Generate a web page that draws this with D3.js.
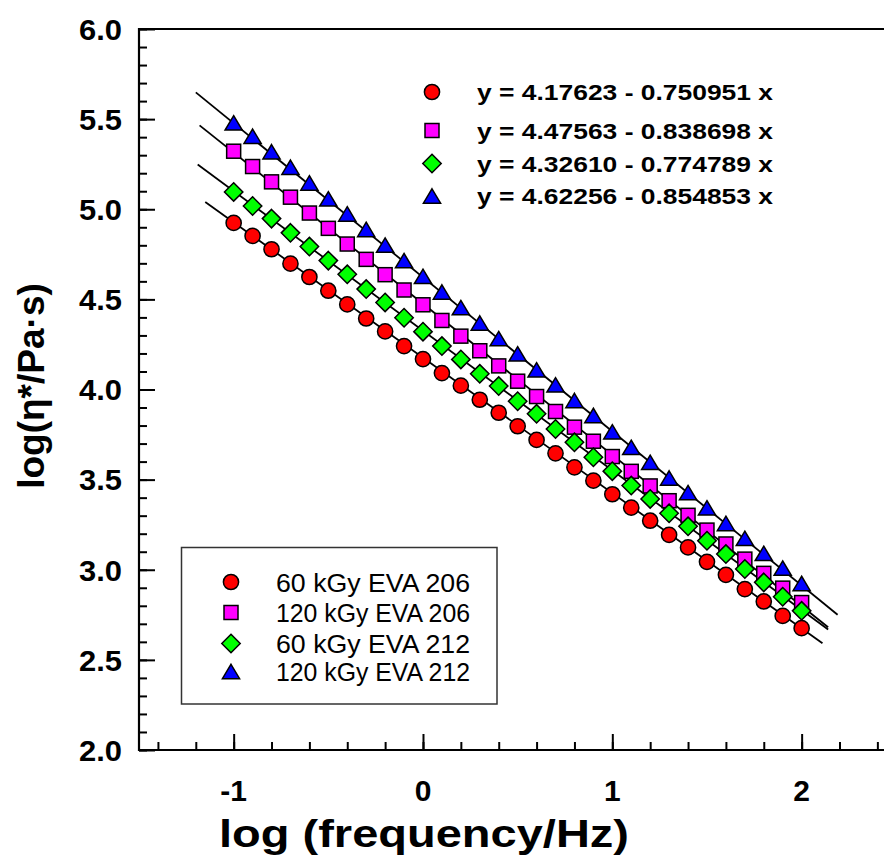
<!DOCTYPE html>
<html><head><meta charset="utf-8">
<script src="https://cdn.jsdelivr.net/npm/d3@7"></script>
<style>body{margin:0;background:#fff} svg{display:block}</style>
</head><body>
<svg id="c" width="884" height="855"></svg>
<script>
// ---- data ----
const logFreq = [-1.0,-0.9,-0.8,-0.7,-0.6,-0.5,-0.4,-0.3,-0.2,-0.1,0.0,0.1,0.2,0.3,0.4,0.5,0.6,0.7,0.8,0.9,1.0,1.1,1.2,1.3,1.4,1.5,1.6,1.7,1.8,1.9,2.0];
const eva206_60 = [4.924,4.852,4.778,4.698,4.624,4.548,4.472,4.394,4.322,4.241,4.169,4.091,4.021,3.943,3.871,3.796,3.720,3.646,3.568,3.494,3.419,3.345,3.272,3.194,3.124,3.044,2.972,2.893,2.824,2.744,2.676];
const eva206_120 = [5.322,5.237,5.152,5.067,4.979,4.894,4.807,4.722,4.637,4.552,4.470,4.383,4.296,4.215,4.131,4.046,3.961,3.878,3.791,3.713,3.628,3.546,3.465,3.383,3.302,3.220,3.143,3.059,2.980,2.898,2.818];
const eva212_60 = [5.096,5.018,4.948,4.869,4.793,4.715,4.639,4.557,4.483,4.398,4.321,4.241,4.167,4.087,4.019,3.935,3.865,3.781,3.707,3.624,3.547,3.467,3.393,3.313,3.241,3.161,3.087,3.004,2.930,2.850,2.772];
const eva212_120 = [5.479,5.405,5.319,5.233,5.146,5.058,4.974,4.888,4.801,4.715,4.628,4.541,4.454,4.369,4.282,4.198,4.109,4.026,3.939,3.856,3.765,3.679,3.596,3.509,3.428,3.343,3.257,3.174,3.091,3.009,2.924];
const seriesNames = ["60 kGy EVA 206","120 kGy EVA 206","60 kGy EVA 212","120 kGy EVA 212"];
const seriesColors = ["#ff0000","#ff00ff","#00ff00","#0000ff"];
const seriesSymbols = ["circle","square","diamond","triangle"];
const fitIntercepts = [4.17623,4.47563,4.32610,4.62256];
const fitSlopes = [0.750951,0.838698,0.774789,0.854853];
const fitLabels = ["y = 4.17623 - 0.750951 x","y = 4.47563 - 0.838698 x","y = 4.32610 - 0.774789 x","y = 4.62256 - 0.854853 x"];
const fitRanges = [[-1.15,2.11],[-1.18,2.14],[-1.19,2.14],[-1.2,2.19]];
const xMajorTicks = [-1,0,1,2];
const xTickLabels = ["-1","0","1","2"];
const yMajorTicks = [2.0,2.5,3.0,3.5,4.0,4.5,5.0,5.5,6.0];
const yTickLabels = ["2.0","2.5","3.0","3.5","4.0","4.5","5.0","5.5","6.0"];
const xTitle = "log (frequency/Hz)";
const yTitle = "log(η*/Pa·s)";

const seriesValues = [eva206_60, eva206_120, eva212_60, eva212_120];

// ---- layout ----
const svg = d3.select("#c");
const FONT = "'Liberation Sans', Arial, Helvetica, sans-serif";
const x = d3.scaleLinear().domain([-1.5, 2.5]).range([139, 896.3]);
const y = d3.scaleLinear().domain([2, 6]).range([750, 29]);

// y axis with inward ticks
const yMinor = d3.range(20, 61).map(v => v/10);
const yAxisMinor = d3.axisRight(y).tickValues(yMinor).tickSize(8).tickFormat("");
const yAxisMajor = d3.axisRight(y).tickValues(yMajorTicks).tickSize(16).tickFormat("");
const gy1 = svg.append("g").attr("transform","translate(139,0)").call(yAxisMinor);
const gy2 = svg.append("g").attr("transform","translate(139,0)").call(yAxisMajor);
[gy1,gy2].forEach(g => { g.select(".domain").remove(); g.selectAll(".tick line").attr("stroke","#000").attr("stroke-width",2); });

// x axis with inward ticks
const xMinor = d3.range(-14, 26, 2).map(v => v/10);
const xAxisMinor = d3.axisTop(x).tickValues(xMinor).tickSize(8).tickFormat("");
const xAxisMajor = d3.axisTop(x).tickValues(xMajorTicks).tickSize(16).tickFormat("");
const gx1 = svg.append("g").attr("transform","translate(0,750)").call(xAxisMinor);
const gx2 = svg.append("g").attr("transform","translate(0,750)").call(xAxisMajor);
[gx1,gx2].forEach(g => { g.select(".domain").remove(); g.selectAll(".tick line").attr("stroke","#000").attr("stroke-width",2); });

// frame lines
svg.append("line").attr("x1",139).attr("x2",884).attr("y1",y(6)).attr("y2",y(6)).attr("stroke","#000").attr("stroke-width",2.2);
svg.append("line").attr("x1",139).attr("x2",139).attr("y1",y(6)-1.1).attr("y2",y(2)+1.1).attr("stroke","#000").attr("stroke-width",2.2);
svg.append("line").attr("x1",138).attr("x2",884).attr("y1",750).attr("y2",750).attr("stroke","#000").attr("stroke-width",2.2);

// tick labels
svg.append("g").selectAll("text").data(yMajorTicks).join("text")
  .attr("x",122).attr("y",d=>y(d)).attr("dy","0.36em")
  .attr("text-anchor","end").attr("font-family",FONT).attr("font-weight","bold").attr("font-size",30)
  .attr("textLength",43).attr("lengthAdjust","spacingAndGlyphs")
  .text((d,i)=>yTickLabels[i]);

svg.append("g").selectAll("text").data(xMajorTicks).join("text")
  .attr("x",d=>x(d)).attr("y",801)
  .attr("text-anchor","middle").attr("font-family",FONT).attr("font-weight","bold").attr("font-size",30)
  .text((d,i)=>xTickLabels[i]);

// titles
svg.append("text").attr("x",424).attr("y",847).attr("text-anchor","middle")
  .attr("font-family",FONT).attr("font-weight","bold").attr("font-size",39)
  .attr("textLength",410).attr("lengthAdjust","spacingAndGlyphs").text(xTitle);
svg.append("text").attr("transform","translate(44,386) rotate(-90)").attr("text-anchor","middle")
  .attr("font-family",FONT).attr("font-weight","bold").attr("font-size",37).text(yTitle);

// symbol drawer
function drawSymbol(g, type, cx, cy, color) {
  let el;
  if (type === "circle") {
    el = g.append("circle").attr("cx",cx).attr("cy",cy).attr("r",7.6);
  } else if (type === "square") {
    el = g.append("rect").attr("x",cx-7).attr("y",cy-7).attr("width",14).attr("height",14);
  } else if (type === "diamond") {
    const h = 9.2;
    el = g.append("path").attr("d",`M${cx},${cy-h}L${cx+h},${cy}L${cx},${cy+h}L${cx-h},${cy}Z`);
  } else {
    const w = 8.6, hh = 7.2;
    el = g.append("path").attr("d",`M${cx},${cy-hh}L${cx+w},${cy+hh}L${cx-w},${cy+hh}Z`);
  }
  el.attr("fill",color).attr("stroke","#000").attr("stroke-width",1.5);
}

// fit lines
const line = d3.line().x(d=>x(d[0])).y(d=>y(d[1]));
const linesG = svg.append("g");
fitIntercepts.forEach((b,i) => {
  const pts = fitRanges[i].map(xv => [xv, b - fitSlopes[i]*xv]);
  linesG.append("path").attr("d",line(pts)).attr("fill","none").attr("stroke","#000").attr("stroke-width",1.8);
});

// points
const ptsG = svg.append("g");
seriesValues.forEach((vals,i) => {
  const g = ptsG.append("g");
  vals.forEach((v,j) => drawSymbol(g, seriesSymbols[i], x(logFreq[j]), y(v), seriesColors[i]));
});

// equation legend
const eqRowsY = [92, 130.5, 163.5, 196];
const eqG = svg.append("g");
fitLabels.forEach((t,i) => {
  drawSymbol(eqG, seriesSymbols[i], 432, eqRowsY[i], seriesColors[i]);
  eqG.append("text").attr("x",477).attr("y",eqRowsY[i]).attr("dy","0.36em")
    .attr("font-family",FONT).attr("font-weight","bold").attr("font-size",22.5)
    .attr("textLength",296).attr("lengthAdjust","spacingAndGlyphs").text(t);
});

// series legend box
const lg = svg.append("g");
lg.append("rect").attr("x",181.5).attr("y",547.5).attr("width",315.5).attr("height",156.5)
  .attr("fill","#fff").attr("stroke","#333").attr("stroke-width",1.5);
const lgRowsY = [582, 612.5, 643.5, 671.5];
seriesNames.forEach((n,i) => {
  drawSymbol(lg, seriesSymbols[i], 231, lgRowsY[i], seriesColors[i]);
  lg.append("text").attr("x",276).attr("y",lgRowsY[i]).attr("dy","0.36em")
    .attr("font-family",FONT).attr("font-size",26.5)
    .attr("textLength",194).attr("lengthAdjust","spacingAndGlyphs").text(n);
});
</script>
</body></html>
